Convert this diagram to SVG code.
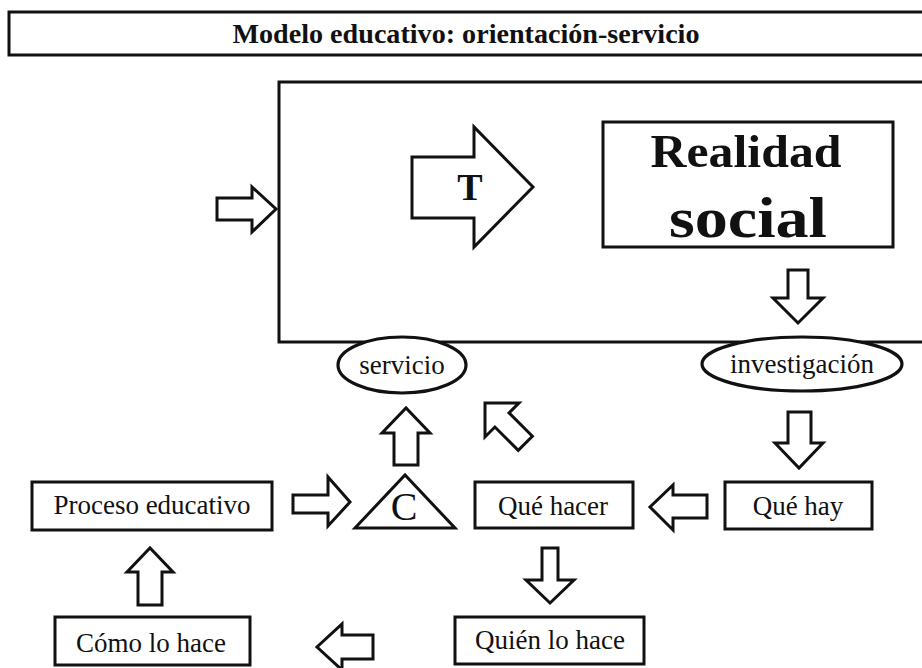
<svg xmlns="http://www.w3.org/2000/svg" width="922" height="668" viewBox="0 0 922 668">
<style>
.box{fill:#fff;stroke:#111;stroke-width:3}
.ell{fill:#fff;stroke:#111;stroke-width:3.2}
.arr{fill:#fff;stroke:#111;stroke-width:3;stroke-linejoin:miter}
.t{font-family:"Liberation Serif","Times New Roman",serif;fill:#111;text-anchor:middle}
.lbl{font-size:27px}
.b{font-weight:bold}
</style>
<rect width="922" height="668" fill="#fff"/>
<g id="title">
<rect class="box" x="9" y="12" width="930" height="43"/>
<text class="t b" x="466" y="43" font-size="28" textLength="467" lengthAdjust="spacingAndGlyphs">Modelo educativo: orientación-servicio</text>
</g>
<g id="entorno">
<rect class="box" x="279" y="82" width="660" height="260"/>
</g>
<g id="realidad">
<rect class="box" x="603" y="122" width="290" height="125"/>
<text class="t b" x="746" y="167" font-size="47" textLength="191" lengthAdjust="spacingAndGlyphs">Realidad</text>
<text class="t b" x="748" y="237" font-size="56" textLength="158" lengthAdjust="spacingAndGlyphs">social</text>
</g>
<g id="t-arrow">
<polygon class="arr" points="412,157 474,157 474,127 533,187 474,247 474,218 412,218"/>
<text class="t b" x="470" y="200" font-size="38">T</text>
</g>
<g id="servicio">
<ellipse class="ell" cx="402" cy="365" rx="64" ry="28"/>
<text class="t lbl" x="402" y="374">servicio</text>
</g>
<g id="investigacion">
<ellipse class="ell" cx="802" cy="364" rx="100" ry="27"/>
<text class="t lbl" x="802" y="373">investigación</text>
</g>
<g id="c">
<polygon class="box" points="355,528 405,475 455,528" stroke-width="3.5"/>
<text class="t" x="404" y="520" font-size="40">C</text>
</g>
<g id="proceso">
<rect class="box" x="32" y="482" width="240" height="48"/>
<text class="t lbl" x="152" y="514" font-size="28">Proceso educativo</text>
</g>
<g id="que-hacer">
<rect class="box" x="475" y="482" width="158" height="46"/>
<text class="t lbl" x="553" y="515">Qué hacer</text>
</g>
<g id="que-hay">
<rect class="box" x="725" y="482" width="147" height="47"/>
<text class="t lbl" x="798" y="515">Qué hay</text>
</g>
<g id="como">
<rect class="box" x="55" y="617" width="195" height="48"/>
<text class="t lbl" x="151" y="652">Cómo lo hace</text>
</g>
<g id="quien">
<rect class="box" x="455" y="617" width="189" height="47"/>
<text class="t lbl" x="550" y="649">Quién lo hace</text>
</g>
<g id="connectors">
<polygon class="arr" points="217,198 252,198 252,187 276,209 252,232 252,220 217,220"/>
<polygon class="arr" points="788,270 808,270 808,298 823,298 798,323 773,298 788,298"/>
<polygon class="arr" points="788,412 811,412 811,443 823,443 799,468 775,443 788,443"/>
<polygon class="arr" points="707,495 673,495 673,485 650,507 673,530 673,518 707,518"/>
<polygon class="arr" points="542,548 558,548 558,580 574,580 550,603 526,580 542,580"/>
<polygon class="arr" points="293,495 328,495 328,477 350,502 328,526 328,513 293,513"/>
<polygon class="arr" points="394,465 418,465 418,433 430,433 406,408 382,433 394,433"/>
<polygon class="arr" points="138,605 162,605 162,572 173,572 150,548 127,572 138,572"/>
<polygon class="arr" points="373,635 342,635 342,624 317,647 342,670 342,659 373,659"/>
<polygon class="arr" transform="translate(485,403) rotate(45)" points="0,0 24,-24 24,-10 57,-10 57,10 24,10 24,24"/>
</g>
</svg>
